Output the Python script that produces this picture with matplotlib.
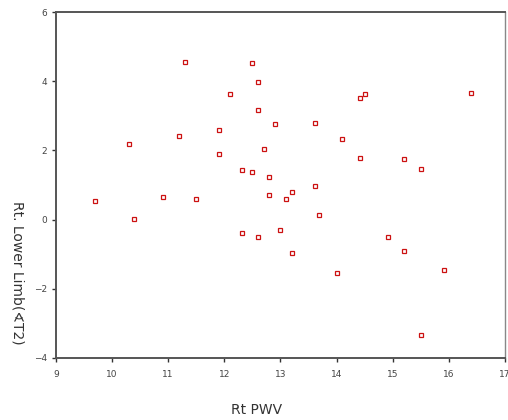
import matplotlib.pyplot as plt

# Rt PWV vs Rt. Lower Limb (angle T2)
rt_pwv = [9.69, 10.30, 10.40, 10.91, 11.19, 11.30, 11.50, 11.91, 11.91, 12.11,
          12.31, 12.31, 12.49, 12.49, 12.60, 12.60, 12.60, 12.70, 12.80, 12.80,
          12.90, 12.99, 13.10, 13.21, 13.21, 13.62, 13.62, 13.69, 14.00, 14.10,
          14.41, 14.41, 14.51, 14.91, 15.20, 15.20, 15.51, 15.51, 15.91, 16.40]
lower_limb = [0.53, 2.18, 0.01, 0.66, 2.41, 4.55, 0.60, 2.60, 1.90, 3.62,
              1.42, -0.40, 4.52, 1.38, 3.99, 3.17, -0.49, 2.04, 1.22, 0.72,
              2.77, -0.30, 0.60, 0.79, -0.96, 2.80, 0.96, 0.13, -1.54, 2.34,
              3.52, 1.79, 3.63, -0.49, 1.75, -0.92, 1.45, -3.33, -1.45, 3.66]

x_ticks = [9, 10, 11, 12, 13, 14, 15, 16, 17]
y_ticks = [-4, -2, 0, 2, 4, 6]


def plot_data(output_path):
    fig = plt.figure(figsize=(5.08, 4.2), dpi=100)
    ax = fig.add_axes([0.110, 0.148, 0.884, 0.823])

    ax.plot(rt_pwv, lower_limb, linestyle="none", marker="s", markersize=3.4,
            markerfacecolor="none", markeredgecolor="#cc1111", markeredgewidth=0.9)

    ax.set_xlim(9, 17)
    ax.set_ylim(-4, 6)
    ax.set_xticks(x_ticks)
    ax.set_yticks(y_ticks)
    ax.tick_params(labelsize=6.5, labelcolor="#444444", color="#333333",
                   length=3, width=1, direction="out")
    ax.tick_params(axis="x", pad=6)

    for side in ["left", "bottom", "top"]:
        ax.spines[side].set_color("#555555")
        ax.spines[side].set_linewidth(1.4)
    ax.spines["right"].set_color("#888888")
    ax.spines["right"].set_linewidth(1.0)

    fig.text(257 / 508, 1 - 410 / 420, "Rt PWV", ha="center", va="center",
             fontsize=10, color="#333333")
    fig.text(17 / 508, 1 - 273 / 420, "Rt. Lower Limb(\u2222T2)", ha="center",
             va="center", rotation=270, fontsize=10, color="#333333")

    fig.savefig(output_path, dpi=100)
    plt.close(fig)


if __name__ == "__main__":
    plot_data("out.png")
